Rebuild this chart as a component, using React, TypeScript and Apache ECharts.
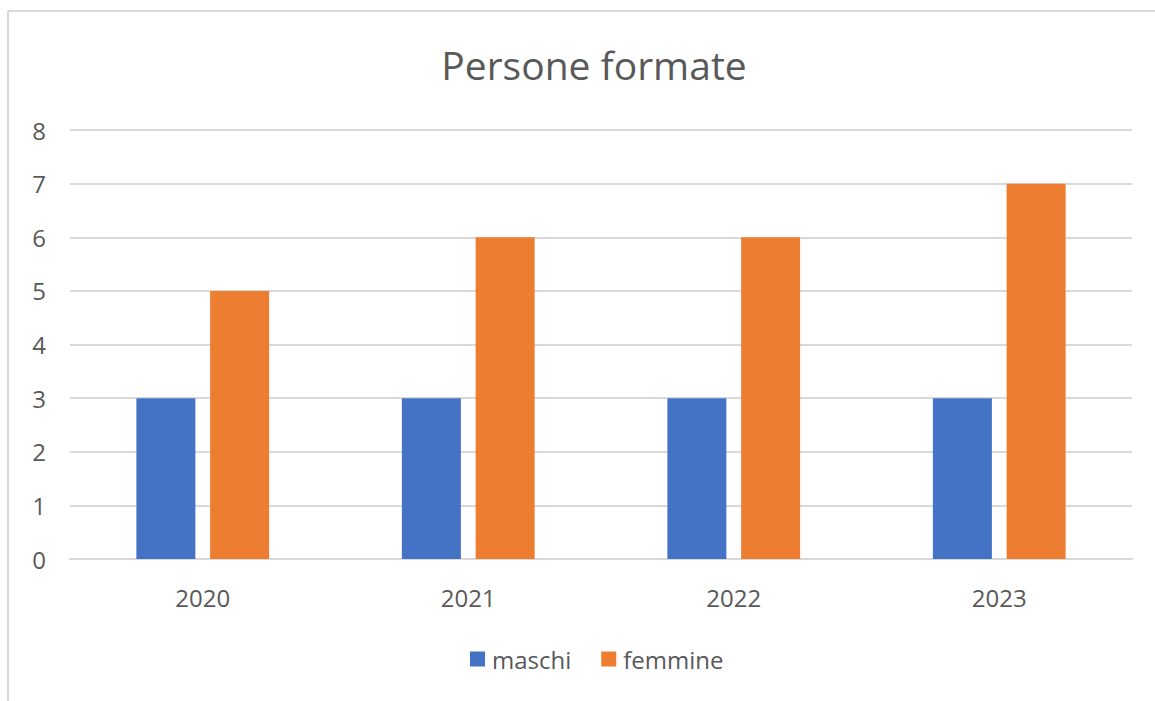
import React, { useEffect, useRef } from "react";
import * as echarts from "echarts";

const categories = ["2020", "2021", "2022", "2023"];
const maschi = [3, 3, 3, 3];
const femmine = [5, 6, 6, 7];
const seriesNames = ["maschi", "femmine"];
const title = "Persone formate";

const FONT = "'Open Sans', 'Noto Sans', sans-serif";
const TXT = "#595959";

export default function App() {
  const ref = useRef<HTMLDivElement>(null);
  useEffect(() => {
    if (!ref.current) return;
    const chart = echarts.init(ref.current, undefined, { renderer: "svg" });
    chart.setOption({
      animation: false,
      backgroundColor: "#ffffff",
      title: {
        text: title,
        top: 40,
        left: 589,
        textAlign: "center",
        textStyle: { fontFamily: FONT, fontSize: 39, fontWeight: "normal", color: TXT },
      },
      graphic: [
        { type: "line", shape: { x1: 8, y1: 11, x2: 1155, y2: 11 }, style: { stroke: "#d9d9d9", lineWidth: 2 } },
        { type: "line", shape: { x1: 8, y1: 11, x2: 8, y2: 701 }, style: { stroke: "#d9d9d9", lineWidth: 2 } },
      ],
      legend: {
        data: seriesNames,
        bottom: 25,
        left: 465,
        itemWidth: 15,
        itemHeight: 15,
        itemGap: 30,
        icon: "rect",
        textStyle: { fontFamily: FONT, fontSize: 24, color: TXT, padding: [0, 0, 0, 2] },
      },
      grid: { left: 70, right: 23, top: 130, bottom: 142, containLabel: false },
      xAxis: {
        type: "category",
        data: categories,
        axisLine: { lineStyle: { color: "#d9d9d9", width: 2 } },
        axisTick: { show: false },
        axisLabel: { fontFamily: FONT, fontSize: 24, color: TXT, margin: 26 },
      },
      yAxis: {
        type: "value",
        min: 0,
        max: 8,
        interval: 1,
        axisLine: { show: false },
        axisTick: { show: false },
        splitLine: { lineStyle: { color: "#d9d9d9", width: 2 } },
        axisLabel: { fontFamily: FONT, fontSize: 24, color: TXT, margin: 24 },
      },
      series: [
        {
          name: seriesNames[0],
          type: "bar",
          data: maschi,
          itemStyle: { color: "#4472c4" },
          barGap: "25%",
          barCategoryGap: "50%",
        },
        {
          name: seriesNames[1],
          type: "bar",
          data: femmine,
          itemStyle: { color: "#ed7d31" },
          barGap: "25%",
          barCategoryGap: "50%",
        },
      ],
    });
    return () => chart.dispose();
  }, []);
  return (
    <div
      ref={ref}
      style={{ position: "fixed", left: 0, top: 0, width: 1155, height: 701 }}
    />
  );
}
